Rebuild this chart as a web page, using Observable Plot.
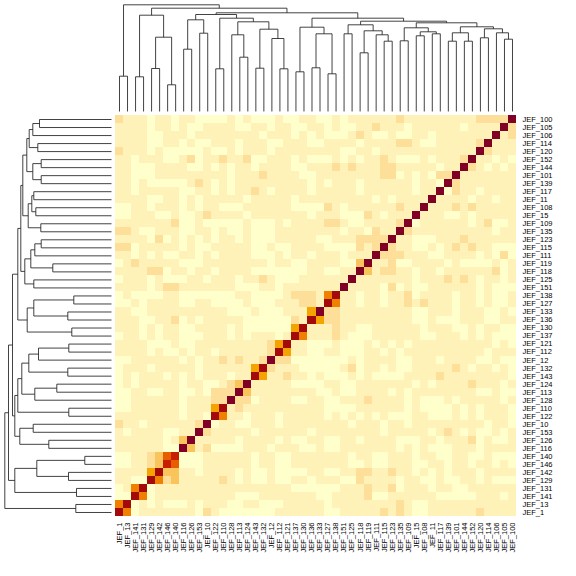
<!DOCTYPE html>
<html>
<head>
<meta charset="utf-8">
<script src="https://cdn.jsdelivr.net/npm/d3@7"></script>
<script src="https://cdn.jsdelivr.net/npm/@observablehq/plot@0.6"></script>
<style>
html,body{margin:0;padding:0;background:#fff}
#chart{position:relative;width:576px;height:576px;overflow:hidden}
#chart svg{position:absolute;left:0;top:0;background:transparent}
</style>
</head>
<body>
<div id="chart"></div>
<script>
// column labels, left to right
const columnIds = [1,13,141,131,129,142,146,140,116,126,153,10,122,110,128,113,124,143,132,12,112,121,137,130,136,133,127,138,151,125,118,119,111,115,123,135,109,15,108,11,117,139,101,144,152,120,114,106,105,100];
// row labels, top to bottom
const rowIds = [100,105,106,114,120,152,144,101,139,117,11,108,15,109,135,123,115,111,119,118,125,151,138,127,133,136,130,137,121,112,12,132,143,124,113,128,110,122,10,153,126,116,140,146,142,129,131,141,13,1];

// colour level of each cell (row by row); spaces only group runs
const levelRows = [
"2111 0 11 0 11 0000 1 0 1 000 1 00 11 00 1 0 111111 2 111111111 2222 9",
"1111 0 11 0 1 00 1111 00 11 0 11 00 1 1 0 1 00 11 2 111 0 111111 0 1111 9 2",
"1111 00 111 0 11111111 0 111 0 1 0 1 000 1 2 1 00 1 00 11 0 1111111 9 1 2",
"1111 00 11 0 1 00 111 0 111 00 111 0 0 1111 0 1111 22 1 00 11111 2 9 111",
"2 111 0 1 00000 1 00 1 0 111 0 11111 111 00 11 0 111111111111 9 2 111",
"11 0 111 00 1 2 0 11 2 11 2 00 111 0 1 0 00 1 0 1 0 11 2 1 000 1 0 111 2 9 11 0 1 0",
"11 000 1111 00 1 0 1 0 11 0 1111 00 1 11 2 1 2 111 22 11111 0 11 9 2 1 0 1 0 1",
"11 000 111111111 0 111 2 1111 00 11111111 22 0 1 0 1 0 22 9 1111111",
"11 0 1 00000 1 2 1 0 1 0 111111111 0 1 0 111 0 111111 0 11 0 9 2 1111111",
"11 0 11111 00 11 0 1 0 11 2 1 0 1111 0 11111 0 111111 0 11 9 0 2 11 0 1111",
"1111 00 11 0 1 0 11111 0 11111 0 11 1111111 0 1 0 1111 9 1111 0 11 0 11",
"00 11 0 111 0 1 0 11 000 111111 000 0 2 1 0 111111 2 11 9 111 2 1 2 11111",
"00 111 00 1 00 1 2 1111 0 1111111 0 111 000 2 1 0 111 9 111 00 1 0 11111",
"1111111 2 00 1 00000 1 000 1 0 111 1 22 1 00 1111 2 9 0 111111 0 1 2 00 1",
"22 1 00 111 00 1 1 0 1 00 1 000 11111 111 0 11 0 2 11 9 2 1111111111 0 11",
"1111 0 2 0 1 0 1 0 1 0 11 0 1 000 11111 00 111 2222 9 11 000 111 2 111111",
"22 0 11111 0 1 00 11111 00 1 00 111 1 0000 2 1 2 9 2 11 00 1 0 1 2 1 2 11 000",
"11 0 1 0 1 00 11 0 1 0 1111 000 1 0 11 0 111 0 111 9 222 111 00 1111 0 1 0 2 0",
"0 1 2 11111 000 11111111 0 11 00 1 111 00 3 9 11 2 00 1111 0 1 0000 1 0 1",
"1111 22 0 11 0 11 0 1111 0000000 1 1 00 11 9 3 1 22 11 0 11 0 111111 2 0 1",
"0 111 0 1 000 11 0 111 0 11 2 1 000 11 1111 9 1111111 0 111 2 1 2 1 0 11 0 1",
"1111 0 1 22 1111111 000 11 0 1111 111 9 1111 0 2 0 1 00 111111 0 1 000",
"0 1 0000 11 0000000 11 0000 1 222 1 5 8 11 0 11 0 11 2 0 1111 0 11 0 1 00 1",
"00 1 0 1111 00 11 0000 1 000 111 22 1 8 5 11 0 11 0 11 2 1 2 111 0 11 0 1 00 1",
"11 00 1111111111 000 1 000 111 4 9 22 111111111 00 111 0 111 00 1 0",
"111 00 11 2 0 1 0 11111 000000 2 1 8 4 22 111111111 00 1 000 111 00 11",
"111 0 1 0 11 00 1111 0 1 000000 4 8 1 11 2 11 00 111111 0 111 00 1 0 11 00",
"0 11 0 1 0 11 000 111 0 1 0 111 0 1 8 5 1 11 2 1 000 111111 00 111 0 1 0 1 000",
"1111 000 1 00 111111111 2 4 8 11 0 00 1 000 1 0 1 0 1 0 1111111111 0 1 0",
"1111 0 1 00 1 0 11 0 111111 2 8 4 11 0 0 11 000 11 0 1 0 1111111111 0 111",
"00 111111 0 1 0 11 2 1 2 11 2 9 22 000 0000 1 0 1111 00 111 0 1111 00 1 00",
"0 111 0 11111 0 111111 4 8 2 111 00 000 1 2 0 11 0 1 00 11111 2 1 0 11 0 1 0",
"0 1 0 111 0 1 0 1 0 111 0 11 8 4 11 2 11 0 1 000 1 0 1 0000 1111 2 11111111 0",
"0 1 0 11111 0 11 00 1 2 3 9 11111 000 0 11 00 1111111 0 1 0 1111 2 111 0 1",
"00 11 00 11 00 1 0 222 9 3 11111111 00 1 00 1111 0 1 0 11111111 00 1 00",
"00 111111 0 111 22 9 22 0 1111 00 1 1 00 111 2 1111 0 1 000 1 0 11111 0 1",
"00 111111 0 111 4 8 1 2 111111111 1 0000 111111 0 1 0000 1 0 1 0 111 0",
"11111111 0 11 0 8 5 11 0 111 0 1111 1 0 1 0 1 0 1 0 1 000 11 000 1 0 1 0 111 0",
"2 11 0 111111 2 9 0 11 00 111 0 1111 1111 0 111 0 11 0 111111111 0 11 0",
"1 0 1111 00 11 9 2 11111 0 111111 0 11111111 0 11111 0 1 2 1 0 1 00 1 0 1",
"111111 0 1 3 9 11111 0 1111 0 1 00 1 1 00 11 0 1111 000 11 0 111 2 0 1 00 1",
"111111 00 9 3 1 2 0000 111 0 111 00 1 00 1111111 0 1 0 1 000 111 0 1111",
"00 11 2 3 6 7 000 111111 0 11 00 111 1111 0 11 00 111 0 11 00 11 00 1 000",
"00 11 2 3 7 6 000 111111 0 11 00 111 1111 00 1 00 111 00 11 0 11 0 11 0 1 0",
"1111 4 8 33 11 0 1111 0 1 00 1 00 00 1 1 00 11 22 11 2 11 0 1 0 1 0 111 0 1111",
"11 00 8 5 2 3 11111 2 1 0 1 00 1 00 11 0 111 00 2 1111 0 11 00 1 00 11 0 1 000",
"0 1 5 8 0 11111111111111111 000 000 111 2 11 2 0 111 0 11 00 111111",
"00 8 5 0 1111111111 000 1111111 00 1111 2 00 111111 00000 111 0 1",
"5 8 0 1 0 1 000 1 0 111 00 11 000 1111 1 0 11111111 2 1 00 11111111111",
"8 5 0 1111111 0 2 1 0000000 11111 1 00 11111 2 1 2 1 00 111111 2 1111"
];
const levelColors = ["#ffffcc","#fff2b8","#fedf99","#f9c45c","#f5a300","#f08000","#e85d00","#c81e00","#a50a0a","#800026"];

// dendrograms: [height, left branch, right branch]; a plain number is a leaf index
const topTree = [106.7,
  [35.3, 0, 1],
  [103.3,
    [96.3,
      [34.7, 2, 3],
      [74.3, [43, 4, 5], [26.7, 6, 7]]],
    [98.7,
      [97,
        [91.7, [62.3, 8, 9], [78.3, 10, 11]],
        [93.3,
          [42.7, 12, 13],
          [89.7,
            [76.7, 14, [54.3, 15, 16]],
            [82.3, [43.3, 17, 18], [73, 19, [42.7, 20, 21]]]]]],
      [93.3,
        [84.3, [39.7, 22, 23], [77.7, [43.7, 24, 25], [37.7, 26, 27]]],
        [90.3,
          [86.7, [77.7, 28, 29], [80.7, [58.7, 30, 31], [76.7, 32, [70.3, 33, 34]]]],
          [88.7,
            [83.7, [70.7, 35, 36], [79.7, [75.7, 37, 38], [77.7, 39, 40]]],
            [84.7,
              [78.7, [70.3, 41, 42], [70.3, 43, 44]],
              [82.7, [73.7, 45, 46], [78.7, 47, [72.3, 48, 49]]]]]]]]]];
const leftTree = [106.7,
  [103,
    [99,
      [93.7,
        [90.7,
          [88.7,
            [84.7,
              [82.3, [78.7, [72, 0, 1], 2], [73.7, 3, 4]],
              [78.7, [70.3, 5, 6], [70.3, 7, 8]]],
            [83.3, [79.7, [77.7, 9, 10], [75.7, 11, 12]], [70.7, 13, 14]]],
          [86.7,
            [80.7, [76.7, [70.3, 15, 16], 17], [58.7, 18, 19]],
            [77.7, 20, 21]]],
        [84.3, [77.7, [37.7, 22, 23], [43.7, 24, 25]], [39.7, 26, 27]]],
      [96.7,
        [93.7,
          [89.7,
            [82.7, [73, [42.7, 28, 29], 30], [43.7, 31, 32]],
            [76.7, [54.7, 33, 34], 35]],
          [42.7, 36, 37]],
        [91.7, [78.3, 38, 39], [62.7, 40, 41]]]],
    [96.7, [74.7, [26.7, 42, 43], [43, 44, 45]], [35, 46, 47]]],
  [35.7, 48, 49]];

const maxHeight = 107;
const font = "'Liberation Sans', Arial, Helvetica, sans-serif";
const cols = columnIds.map(d => "JEF_" + d);
const rows = rowIds.map(d => "JEF_" + d);

const cells = levelRows.flatMap((row, r) =>
  row.replace(/ /g, "").split("").slice(0, cols.length).map((v, c) => ({col: cols[c], row: rows[r], level: v})));

function brackets(tree) {
  const out = [];
  (function walk(n) {
    if (typeof n === "number") return {pos: n + 0.5, h: 0};
    const a = walk(n[1]), b = walk(n[2]);
    const key = out.length;
    [[a.pos, a.h], [a.pos, n[0]], [b.pos, n[0]], [b.pos, b.h]].forEach(p => out.push({id: key, pos: p[0], h: p[1]}));
    return {pos: (a.pos + b.pos) / 2, h: n[0]};
  })(tree);
  return out;
}
const lineStyle = {stroke: "#222", strokeWidth: 1, strokeOpacity: 0.85, curve: "linear", strokeLinejoin: "miter", strokeLinecap: "butt"};

const heat = Plot.plot({
  width: 576, height: 576,
  marginLeft: 115, marginRight: 60, marginTop: 115, marginBottom: 60,
  style: {fontFamily: font, fontSize: "7.5px", color: "#000", background: "transparent"},
  x: {domain: cols, padding: 0, round: false, axis: null},
  y: {domain: rows, padding: 0, round: false, axis: null},
  color: {type: "ordinal", domain: d3.range(10).map(String), range: levelColors},
  marks: [
    Plot.cell(cells, {x: "col", y: "row", fill: "level", inset: 0, shapeRendering: "crispEdges"}),
    Plot.axisX({anchor: "bottom", tickRotate: -90, tickSize: 0, tickPadding: 6, label: null, fontSize: 7.5, fill: "#000"}),
    Plot.axisY({anchor: "right", tickSize: 0, tickPadding: 6, label: null, fontSize: 7.5, fill: "#000"})
  ]
});

const top_ = Plot.plot({
  width: 576, height: 115,
  marginLeft: 115, marginRight: 60, marginTop: 4, marginBottom: 4,
  style: {background: "transparent"},
  x: {domain: [0, cols.length], axis: null},
  y: {domain: [0, maxHeight], axis: null},
  marks: [Plot.line(brackets(topTree), {x: "pos", y: "h", z: "id", ...lineStyle})]
});

const left_ = Plot.plot({
  width: 115, height: 576,
  marginLeft: 4, marginRight: 4, marginTop: 115, marginBottom: 60,
  style: {background: "transparent"},
  x: {domain: [maxHeight, 0], axis: null},
  y: {domain: [0, rows.length], reverse: true, axis: null},
  marks: [Plot.line(brackets(leftTree), {x: "h", y: "pos", z: "id", ...lineStyle})]
});

const host = document.getElementById("chart");
host.append(heat, top_, left_);
</script>
</body>
</html>
